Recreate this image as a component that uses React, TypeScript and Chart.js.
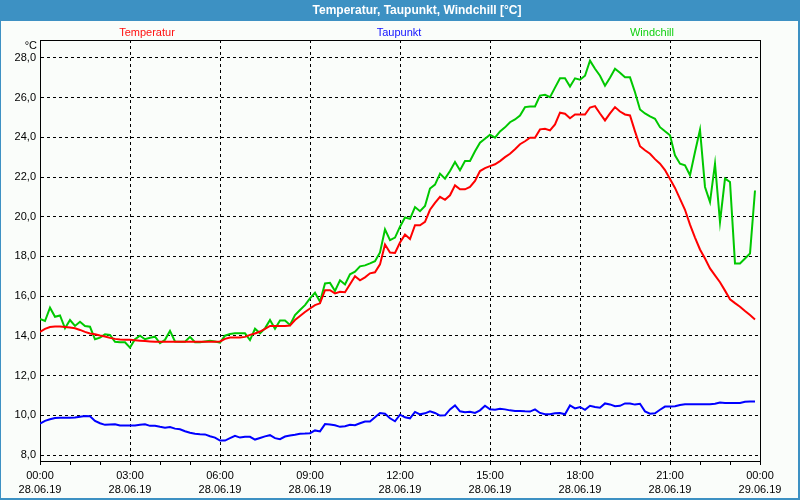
import React, { useEffect, useRef } from "react";
import { Chart, registerables } from "chart.js";

Chart.register(...registerables);

// ---------- data ----------
const TITLE = "Temperatur, Taupunkt, Windchill [°C]";
const UNIT = "°C";
const seriesNames = ["Temperatur", "Taupunkt", "Windchill"];
const seriesColors = ["#ff0000", "#0000ff", "#00c800"];
const legendColors = ["#ff1010", "#1010ff", "#10d010"];

// one sample every 10 minutes, 00:00 .. 23:50
const SAMPLE_STEP_MIN = 10;

const temperature = [
  14.2, 14.35, 14.45, 14.47, 14.47, 14.45,
  14.42, 14.38, 14.3, 14.2, 14.12, 14.08,
  14.02, 13.97, 13.9, 13.85, 13.82, 13.8,
  13.8, 13.78, 13.76, 13.74, 13.72, 13.7,
  13.7, 13.7, 13.7, 13.7, 13.7, 13.7,
  13.7, 13.7, 13.7, 13.7, 13.7, 13.7,
  13.72, 13.85, 13.92, 13.92, 13.92, 13.95,
  14.05, 14.12, 14.22, 14.35, 14.5, 14.5,
  14.5, 14.5, 14.52, 14.8, 15.0, 15.2,
  15.38, 15.55, 15.64, 16.3, 16.3, 16.14,
  16.22, 16.2, 16.6, 17.0, 16.8, 16.95,
  17.15, 17.2, 17.6, 18.6, 18.2, 18.18,
  18.7, 19.1, 18.88, 19.57, 19.57, 19.74,
  20.35, 20.7, 21.0, 20.85, 21.08, 21.58,
  21.38, 21.38, 21.5, 21.8, 22.3, 22.45,
  22.55, 22.64, 22.8, 23.0, 23.17, 23.4,
  23.65, 23.8, 23.98, 23.98, 24.4, 24.43,
  24.35, 24.65, 25.24, 25.19, 24.96, 25.15,
  25.15, 25.15, 25.5, 25.57, 25.2, 24.85,
  25.2, 25.52, 25.3, 25.15, 25.1, 24.3,
  23.55, 23.35, 23.17, 22.9, 22.67, 22.35,
  21.9, 21.45, 20.9, 20.35, 19.6, 18.95,
  18.35, 17.9, 17.4, 17.05, 16.7, 16.28,
  15.84, 15.65, 15.47, 15.25, 15.05, 14.83,
];

const dewPoint = [
  9.58, 9.72, 9.8, 9.86, 9.88, 9.88,
  9.88, 9.89, 9.93, 9.96, 9.95, 9.72,
  9.6, 9.52, 9.54, 9.55, 9.49, 9.49,
  9.49, 9.49, 9.53, 9.55, 9.47, 9.47,
  9.42, 9.38, 9.41, 9.33, 9.3, 9.2,
  9.12, 9.07, 9.05, 9.04, 8.95, 8.88,
  8.73, 8.73, 8.85, 8.97, 8.88, 8.92,
  8.92, 8.78, 8.86, 8.94, 9.0, 8.85,
  8.8, 8.93, 8.98, 9.02, 9.07, 9.08,
  9.1, 9.24, 9.19, 9.56, 9.54, 9.5,
  9.42, 9.45, 9.52, 9.5, 9.6, 9.69,
  9.69, 9.9, 10.12, 10.08, 9.85, 9.7,
  10.03, 9.9, 9.85, 10.17, 10.05, 10.1,
  10.2, 10.12, 9.99, 10.0, 10.3, 10.5,
  10.2, 10.15, 10.18, 10.12, 10.25, 10.48,
  10.3, 10.28, 10.33, 10.3, 10.25, 10.22,
  10.22, 10.2, 10.19, 10.3, 10.12, 10.05,
  10.05, 10.1, 10.12, 10.05, 10.5, 10.35,
  10.42, 10.28, 10.48, 10.42, 10.38, 10.6,
  10.55, 10.46, 10.48, 10.6, 10.6, 10.54,
  10.58, 10.2, 10.08, 10.1, 10.28, 10.44,
  10.44, 10.46, 10.52, 10.56, 10.56, 10.56,
  10.56, 10.56, 10.56, 10.58, 10.64, 10.62,
  10.62, 10.62, 10.62, 10.68, 10.69, 10.69,
];

const windchill = [
  14.85, 14.75, 15.42, 14.96, 15.03, 14.38,
  14.8, 14.5, 14.71, 14.5, 14.46, 13.83,
  13.91, 14.08, 14.05, 13.7, 13.68, 13.68,
  13.41, 13.83, 14.01, 13.83, 13.91, 13.96,
  13.63, 13.8, 14.25, 13.72, 13.71, 13.71,
  13.95, 13.68, 13.68, 13.72, 13.76, 13.72,
  13.66, 14.01, 14.1, 14.13, 14.13, 14.13,
  13.79, 14.36, 14.13, 14.38, 14.8, 14.36,
  14.77, 14.77, 14.55, 15.05, 15.3, 15.55,
  15.89, 16.17, 15.72, 16.64, 16.67, 16.26,
  16.8, 16.59, 17.1, 17.23, 17.5, 17.55,
  17.65, 17.76, 18.2, 19.36, 18.82, 18.95,
  19.5, 19.96, 19.89, 20.49, 20.28, 20.54,
  21.42, 21.62, 22.17, 21.92, 22.3, 22.76,
  22.34, 22.81, 22.81, 23.3, 23.73, 23.93,
  24.13, 23.98, 24.3, 24.5, 24.76, 24.9,
  25.1, 25.52, 25.55, 25.55, 26.1, 26.14,
  26.02, 26.5, 26.97, 26.97, 26.56, 26.97,
  26.9, 27.1, 27.86, 27.45, 27.1, 26.6,
  27.0, 27.45, 27.25, 27.02, 27.02, 26.27,
  25.4, 25.2, 25.05, 24.93, 24.51, 24.3,
  24.1, 23.09, 22.67, 22.59, 22.09, 23.26,
  24.38, 21.5, 20.74, 22.67, 19.74, 21.92,
  21.75, 17.65, 17.65, 17.9, 18.15, 21.32,
];

const yTicks = [8, 10, 12, 14, 16, 18, 20, 22, 24, 26, 28];
const Y_MIN = 7.7;
const Y_MAX = 28.9;

const xTimeLabels = ["00:00", "03:00", "06:00", "09:00", "12:00", "15:00", "18:00", "21:00", "00:00"];
const xDateLabels = ["28.06.19", "28.06.19", "28.06.19", "28.06.19", "28.06.19", "28.06.19", "28.06.19", "28.06.19", "29.06.19"];
const LABEL_STEP_MIN = 180; // one labelled tick every 3 h
const MINOR_STEP_MIN = 60; // small tick every hour
const X_MAX_MIN = 1440;

const FONT = '"Liberation Sans", Arial, sans-serif';
const FRAME_BLUE = "#3d91c3";
const BG = "#fafdfa";

export default function App() {
  const canvasRef = useRef<HTMLCanvasElement | null>(null);

  useEffect(() => {
    const canvas = canvasRef.current;
    if (!canvas) return;

    const toPoints = (vals: number[]) =>
      vals.map((v, i) => ({ x: i * SAMPLE_STEP_MIN, y: v }));

    const hourTicks: number[] = [];
    for (let m = 0; m <= X_MAX_MIN; m += MINOR_STEP_MIN) hourTicks.push(m);

    const framePlugin = {
      id: "frame",
      afterDatasetsDraw(chart: any) {
        const { ctx, chartArea } = chart;
        const { left, top, right, bottom } = chartArea;
        ctx.save();
        ctx.strokeStyle = "#000";
        ctx.lineWidth = 1;
        ctx.setLineDash([]);
        ctx.beginPath();
        ctx.moveTo(left, Math.round(top) + 0.5);
        ctx.lineTo(right + 1, Math.round(top) + 0.5);
        ctx.moveTo(Math.round(right) + 0.5, top);
        ctx.lineTo(Math.round(right) + 0.5, bottom + 1);
        ctx.stroke();
        ctx.restore();
      },
    };

    const series = [temperature, dewPoint, windchill];

    const chart = new Chart(canvas, {
      type: "line",
      data: {
        datasets: series.map((vals, i) => ({
          label: seriesNames[i],
          data: toPoints(vals),
          borderColor: seriesColors[i],
          backgroundColor: seriesColors[i],
          borderWidth: 2,
          pointRadius: 0,
          tension: 0,
          fill: false,
        })),
      },
      options: {
        animation: false,
        responsive: false,
        devicePixelRatio: 1,
        layout: { padding: { top: 40, right: 40, left: 0, bottom: 0 } },
        plugins: {
          legend: { display: false },
          title: { display: false },
          tooltip: { enabled: false },
        },
        scales: {
          x: {
            type: "linear",
            min: 0,
            max: X_MAX_MIN,
            afterBuildTicks: (scale: any) => {
              scale.ticks = hourTicks.map((v) => ({ value: v }));
            },
            afterFit: (scale: any) => {
              scale.height = 39;
            },
            grid: {
              color: (c: any) =>
                c.tick && c.tick.value % LABEL_STEP_MIN === 0 ? "#000" : "rgba(0,0,0,0)",
              tickColor: "#000",
              tickLength: 4,
              lineWidth: 1,
            },
            border: { display: true, color: "#000", width: 1, dash: [3, 3] },
            ticks: {
              autoSkip: false,
              maxRotation: 0,
              minRotation: 0,
              padding: 3,
              color: "#000",
              font: { family: FONT, size: 11, lineHeight: 1.36 },
              callback: (value: any) => {
                const v = Number(value);
                if (v % LABEL_STEP_MIN !== 0) return "";
                const k = v / LABEL_STEP_MIN;
                return [xTimeLabels[k], xDateLabels[k]];
              },
            },
          },
          y: {
            type: "linear",
            min: Y_MIN,
            max: Y_MAX,
            afterBuildTicks: (scale: any) => {
              scale.ticks = yTicks.map((v) => ({ value: v }));
            },
            afterFit: (scale: any) => {
              scale.width = 40;
            },
            grid: { color: "#000", drawTicks: false, lineWidth: 1 },
            border: { display: true, color: "#000", width: 1, dash: [3, 3] },
            ticks: {
              padding: 4,
              color: "#000",
              font: { family: FONT, size: 11 },
              callback: (value: any) => Number(value).toFixed(1).replace(".", ","),
            },
          },
        },
      },
      plugins: [framePlugin],
    } as any);

    return () => chart.destroy();
  }, []);

  const legendCenters = [147, 399, 652];

  return (
    <div
      style={{
        position: "absolute",
        left: 0,
        top: 0,
        width: 800,
        height: 500,
        background: BG,
        overflow: "hidden",
        fontFamily: FONT,
      }}
    >
      <div style={{ position: "absolute", left: 0, top: 0, width: 800, height: 21, background: FRAME_BLUE }} />
      <div style={{ position: "absolute", left: 0, top: 21, width: 1, height: 479, background: FRAME_BLUE }} />
      <div style={{ position: "absolute", left: 798, top: 21, width: 2, height: 479, background: FRAME_BLUE }} />
      <div style={{ position: "absolute", left: 0, top: 498, width: 800, height: 2, background: FRAME_BLUE }} />
      <canvas
        ref={canvasRef}
        width={800}
        height={500}
        style={{ position: "absolute", left: 0, top: 0, width: 800, height: 500 }}
      />
      <div
        style={{
          position: "absolute",
          left: 417,
          top: 0,
          height: 21,
          lineHeight: "21px",
          transform: "translateX(-50%)",
          color: "#fff",
          fontWeight: "bold",
          fontSize: 12,
          whiteSpace: "nowrap",
        }}
      >
        {TITLE}
      </div>
      {seriesNames.map((name, i) => (
        <div
          key={name}
          style={{
            position: "absolute",
            left: legendCenters[i],
            top: 25,
            lineHeight: "14px",
            transform: "translateX(-50%)",
            color: legendColors[i],
            fontSize: 11,
            whiteSpace: "nowrap",
          }}
        >
          {name}
        </div>
      ))}
      <div
        style={{
          position: "absolute",
          right: 763,
          top: 38,
          lineHeight: "14px",
          color: "#000",
          fontSize: 11,
          whiteSpace: "nowrap",
        }}
      >
        {UNIT}
      </div>
    </div>
  );
}
